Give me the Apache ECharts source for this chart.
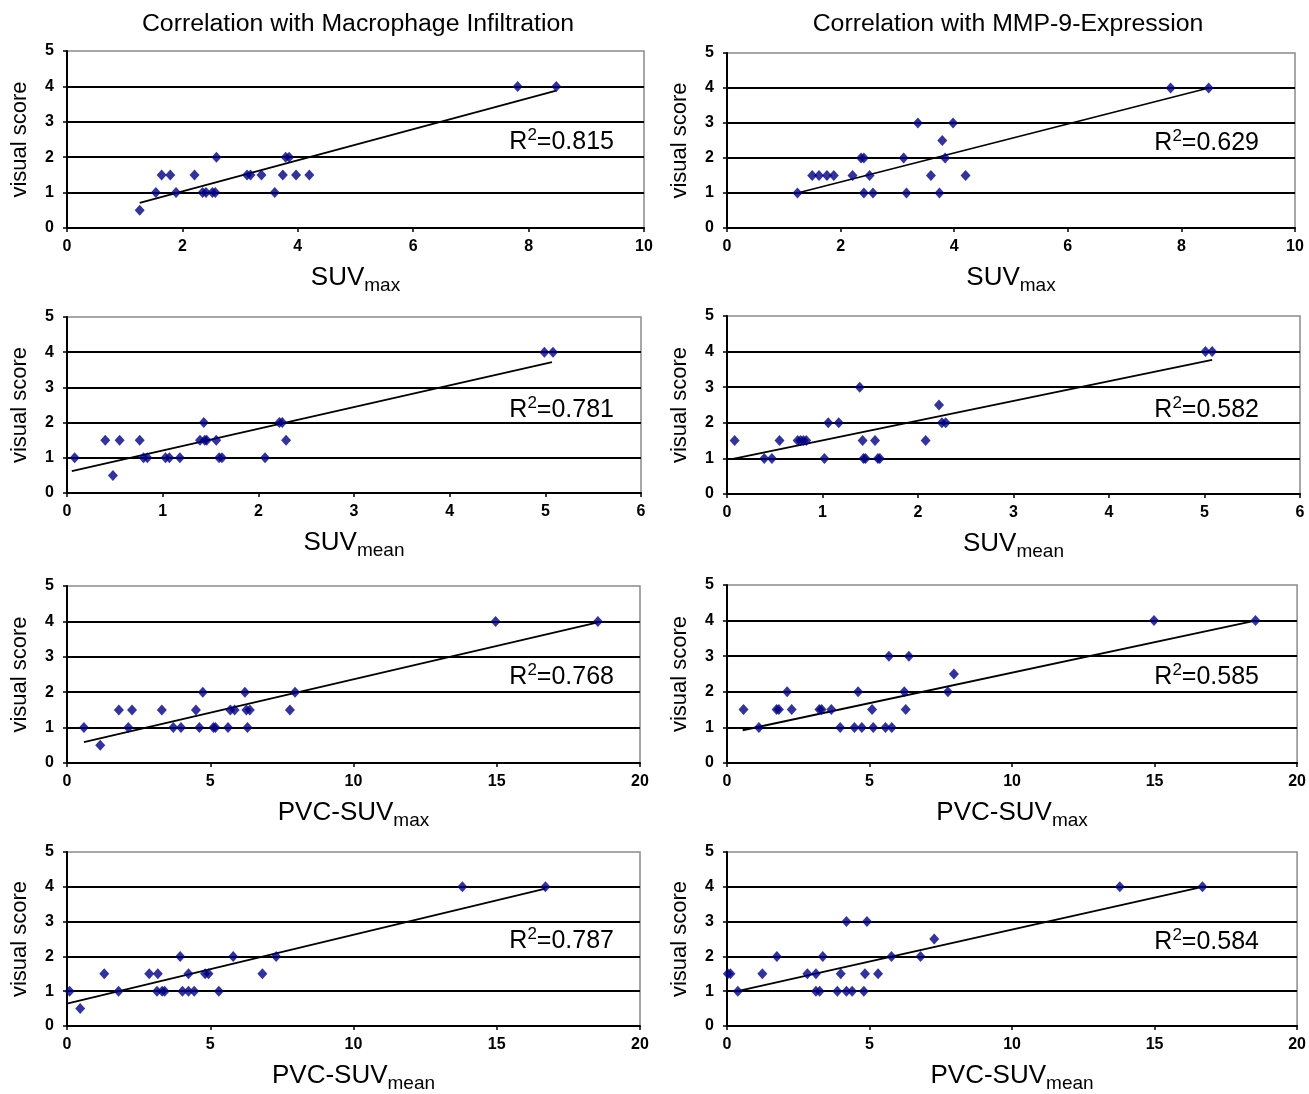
<!DOCTYPE html>
<html><head><meta charset="utf-8">
<script src="https://cdn.jsdelivr.net/npm/echarts@6/dist/echarts.min.js"></script>
<style>html,body{margin:0;padding:0;background:#fff}#c{width:1309px;height:1094px}</style>
</head><body><div id="c"></div>
<script>
// ---------- DATA ----------
const columnTitles = ['Correlation with Macrophage Infiltration', 'Correlation with MMP-9-Expression'];
const yAxisTitle = 'visual score';
const xAxisTitles = [['SUV', 'max'], ['SUV', 'mean'], ['PVC-SUV', 'max'], ['PVC-SUV', 'mean']];
const xAxisMax = [10, 6, 20, 20];
const xAxisStep = [2, 1, 5, 5];
const yAxisMax = 5;
const yAxisStep = 1;
const r2Labels = ['0.815', '0.629', '0.781', '0.582', '0.768', '0.585', '0.787', '0.584'];

const macroSuvMax = [[1.26,0.5],[1.54,1],[1.64,1.5],[1.79,1.5],[1.89,1],[2.21,1.5],[2.35,1],[2.41,1],[2.52,1],[2.57,1],[2.59,2],[3.12,1.5],[3.18,1.5],[3.37,1.5],[3.60,1],[3.74,1.5],[3.79,2],[3.85,2],[3.97,1.5],[4.20,1.5],[7.81,4],[8.48,4]];
const macroSuvMaxTrend = [[1.26,0.71],[8.48,3.88]];

const mmpSuvMax = [[1.24,1],[1.50,1.5],[1.62,1.5],[1.76,1.5],[1.88,1.5],[2.21,1.5],[2.36,2],[2.41,2],[2.41,1],[2.51,1.5],[2.57,1],[3.11,2],[3.16,1],[3.36,3],[3.59,1.5],[3.74,1],[3.79,2.5],[3.84,2],[3.98,3],[4.20,1.5],[7.81,4],[8.48,4]];
const mmpSuvMaxTrend = [[1.24,1.0],[8.48,4.0]];

const macroSuvMean = [[0.08,1],[0.40,1.5],[0.48,0.5],[0.55,1.5],[0.76,1.5],[0.80,1],[0.84,1],[1.03,1],[1.07,1],[1.18,1],[1.39,1.5],[1.43,2],[1.44,1.5],[1.46,1.5],[1.56,1.5],[1.59,1],[1.62,1],[2.07,1],[2.22,2],[2.25,2],[2.29,1.5],[4.99,4],[5.08,4]];
const macroSuvMeanTrend = [[0.05,0.62],[5.07,3.72]];

const mmpSuvMean = [[0.08,1.5],[0.39,1],[0.47,1],[0.55,1.5],[0.74,1.5],[0.77,1.5],[0.80,1.5],[0.83,1.5],[1.02,1],[1.06,2],[1.17,2],[1.39,3],[1.42,1.5],[1.43,1],[1.45,1],[1.55,1.5],[1.58,1],[1.60,1],[2.08,1.5],[2.22,2.5],[2.25,2],[2.29,2],[5.01,4],[5.08,4]];
const mmpSuvMeanTrend = [[0.05,0.98],[5.08,3.77]];

const macroPvcMax = [[0.59,1],[1.16,0.5],[1.81,1.5],[2.14,1],[2.27,1.5],[3.31,1.5],[3.71,1],[3.98,1],[4.50,1.5],[4.62,1],[4.74,2],[5.11,1],[5.18,1],[5.62,1],[5.70,1.5],[5.85,1.5],[6.21,2],[6.26,1.5],[6.30,1],[6.38,1.5],[7.78,1.5],[7.96,2],[14.96,4],[18.53,4]];
const macroPvcMaxTrend = [[0.59,0.59],[18.53,3.97]];

const mmpPvcMax = [[0.58,1.5],[1.12,1],[1.74,1.5],[1.82,1.5],[2.11,2],[2.27,1.5],[3.24,1.5],[3.32,1.5],[3.66,1.5],[3.97,1],[4.47,1],[4.60,2],[4.73,1],[5.09,1.5],[5.13,1],[5.56,1],[5.68,3],[5.78,1],[6.22,2],[6.27,1.5],[6.38,3],[7.75,2],[7.96,2.5],[14.98,4],[18.54,4]];
const mmpPvcMaxTrend = [[0.55,0.92],[18.54,4.0]];

const macroPvcMean = [[0.09,1],[0.46,0.5],[1.30,1.5],[1.80,1],[2.87,1.5],[3.14,1],[3.17,1.5],[3.32,1],[3.41,1],[3.95,2],[4.03,1],[4.24,1.5],[4.24,1],[4.44,1],[4.82,1.5],[4.94,1.5],[5.30,1],[5.80,2],[6.82,1.5],[7.30,2],[13.80,4],[16.70,4]];
const macroPvcMeanTrend = [[0,0.64],[16.70,3.95]];

const mmpPvcMean = [[0.03,1.5],[0.12,1.5],[0.38,1],[1.24,1.5],[1.75,2],[2.82,1.5],[3.12,1.5],[3.12,1],[3.25,1],[3.36,2],[3.87,1],[3.99,1.5],[4.19,3],[4.19,1],[4.39,1],[4.80,1],[4.84,1.5],[4.91,3],[5.30,1.5],[5.77,2],[6.79,2],[7.27,2.5],[13.78,4],[16.68,4]];
const mmpPvcMeanTrend = [[0.29,0.99],[16.68,4.0]];

const panelPoints = [macroSuvMax, mmpSuvMax, macroSuvMean, mmpSuvMean, macroPvcMax, mmpPvcMax, macroPvcMean, mmpPvcMean];
const panelTrends = [macroSuvMaxTrend, mmpSuvMaxTrend, macroSuvMeanTrend, mmpSuvMeanTrend, macroPvcMaxTrend, mmpPvcMaxTrend, macroPvcMeanTrend, mmpPvcMeanTrend];

// ---------- LAYOUT / STYLE ----------
const FONT = '"Liberation Sans", Arial, Helvetica, sans-serif';
const gridBoxes = [
  {left: 67, top: 51, width: 577, height: 177},
  {left: 727, top: 53, width: 568, height: 175},
  {left: 67, top: 317, width: 574, height: 176},
  {left: 727, top: 316, width: 573, height: 178},
  {left: 67, top: 586, width: 573, height: 177},
  {left: 727, top: 585, width: 573, height: 178},
  {left: 67, top: 852, width: 573, height: 175},
  {left: 727, top: 852, width: 573, height: 176}
];
const r2Pos = [[614,142],[1259,143],[614,410],[1259,410],[614,677],[1259,677],[614,941],[1259,942]];
const titlePos = [[358,25],[1008,25]];

const grids = [], xAxes = [], yAxes = [], series = [], graphics = [];
gridBoxes.forEach((g, i) => {
  const row = Math.floor(i / 2);
  grids.push(Object.assign({show: true, borderColor: '#8a8a8a', borderWidth: 1.5, backgroundColor: '#fff', containLabel: false}, g));
  xAxes.push({
    type: 'value', gridIndex: i, min: 0, max: xAxisMax[row], interval: xAxisStep[row],
    axisLine: {show: true, onZero: false, lineStyle: {color: '#000', width: 2}},
    axisTick: {show: true, inside: false, length: 4, lineStyle: {color: '#000', width: 1.5}},
    splitLine: {show: false},
    axisLabel: {margin: 11, fontSize: 16, fontWeight: 'bold', color: '#000', fontFamily: FONT},
    name: '{a|' + xAxisTitles[row][0] + '}{b|' + xAxisTitles[row][1] + '}',
    nameLocation: 'middle', nameGap: 33,
    nameTextStyle: {
      color: '#000', fontFamily: FONT,
      rich: {
        a: {fontSize: 26, lineHeight: 34, fontFamily: FONT, color: '#000'},
        b: {fontSize: 19, lineHeight: 19, fontFamily: FONT, color: '#000', verticalAlign: 'bottom'}
      }
    }
  });
  yAxes.push({
    type: 'value', gridIndex: i, min: 0, max: yAxisMax, interval: yAxisStep,
    axisLine: {show: true, onZero: false, lineStyle: {color: '#000', width: 2}},
    axisTick: {show: true, inside: false, length: 4, lineStyle: {color: '#000', width: 1.5}},
    splitLine: {show: true, showMinLine: false, showMaxLine: false, lineStyle: {color: '#000', width: 2}},
    axisLabel: {margin: 13, fontSize: 16, fontWeight: 'bold', color: '#000', fontFamily: FONT},
    name: yAxisTitle, nameLocation: 'middle', nameGap: 36, nameRotate: 90,
    nameTextStyle: {fontSize: 22, color: '#000', fontFamily: FONT}
  });
  series.push({
    type: 'line', xAxisIndex: i, yAxisIndex: i, data: panelTrends[i],
    showSymbol: false, symbol: 'none', silent: true, z: 2,
    lineStyle: {color: '#000', width: 1.8}
  });
  series.push({
    type: 'scatter', xAxisIndex: i, yAxisIndex: i, data: panelPoints[i],
    symbol: 'diamond', symbolSize: [10, 11], z: 3,
    itemStyle: {color: '#000080'}
  });
  graphics.push({
    type: 'text', x: r2Pos[i][0], y: r2Pos[i][1], z: 10,
    style: {
      text: '{r|R}{s|2}{r|=' + r2Labels[i] + '}',
      align: 'right', verticalAlign: 'middle', fill: '#000',
      rich: {
        r: {fontSize: 25, lineHeight: 30, fontFamily: FONT, fill: '#000'},
        s: {fontSize: 17, lineHeight: 17, fontFamily: FONT, fill: '#000', verticalAlign: 'top'}
      }
    }
  });
});
columnTitles.forEach((t, k) => {
  graphics.push({
    type: 'text', x: titlePos[k][0], y: titlePos[k][1], scaleX: 1.08,
    style: {text: t, align: 'center', verticalAlign: 'middle', fontSize: 23, fontFamily: FONT, fill: '#000'}
  });
});

const chart = echarts.init(document.getElementById('c'), null, {renderer: 'canvas'});
chart.setOption({
  backgroundColor: '#fff',
  animation: false,
  grid: grids, xAxis: xAxes, yAxis: yAxes, series: series,
  graphic: graphics
});
</script></body></html>
